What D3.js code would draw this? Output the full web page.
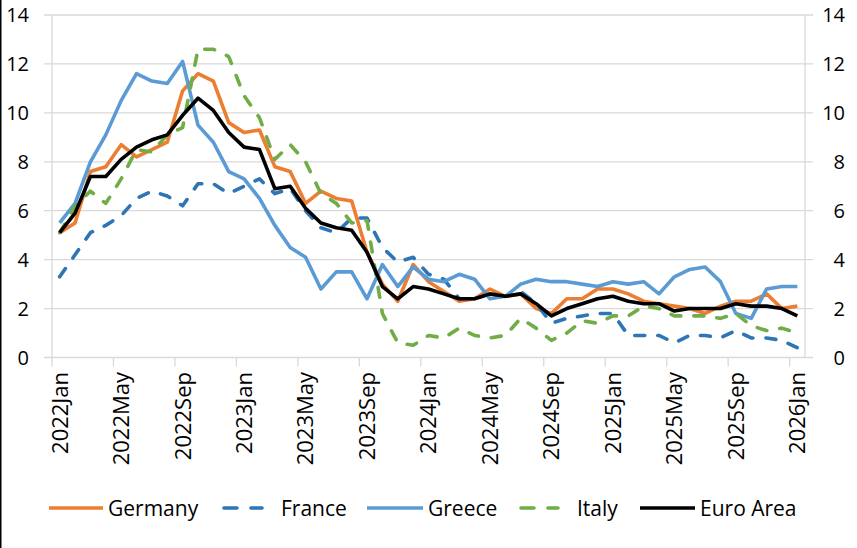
<html>
<head>
  <script src="https://d3js.org/d3.v7.min.js"></script>
  <meta charset="utf-8">
  <title>Inflation</title>
<style>
body {
  margin: 0;
}
svg {
  background: #fff;
  font-family: "Open Sans", sans-serif;
}
</style>
</head>
<body>
<script>
var width = 857,
    height = 548;

// months Jan 2022 .. Jan 2026
var years = [2022, 2023, 2024, 2025, 2026];
var monthNames = ['Jan', 'Feb', 'Mar', 'Apr', 'May', 'Jun', 'Jul', 'Aug', 'Sep', 'Oct', 'Nov', 'Dec'];
var months = [];
years.forEach(function (yr) {
  monthNames.forEach(function (m) {
    if (yr < 2026 || m === 'Jan') months.push(yr + m);
  });
});

var tickLabels = ['2022Jan', '2022May', '2022Sep', '2023Jan', '2023May', '2023Sep',
  '2024Jan', '2024May', '2024Sep', '2025Jan', '2025May', '2025Sep', '2026Jan'];
var yTicks = [0, 2, 4, 6, 8, 10, 12, 14];

var germany = [5.1, 5.5, 7.6, 7.8, 8.7, 8.2, 8.5, 8.8, 10.9, 11.6, 11.3, 9.6,
  9.2, 9.3, 7.8, 7.6, 6.3, 6.8, 6.5, 6.4, 4.3, 3.0, 2.3, 3.8,
  3.1, 2.7, 2.3, 2.4, 2.8, 2.5, 2.6, 2.0, 1.8, 2.4, 2.4, 2.8,
  2.8, 2.6, 2.3, 2.2, 2.1, 2.0, 1.8, 2.1, 2.3, 2.3, 2.6, 2.0,
  2.1];
var france = [3.3, 4.2, 5.1, 5.4, 5.8, 6.5, 6.8, 6.6, 6.2, 7.1, 7.1, 6.7,
  7.0, 7.3, 6.7, 6.9, 6.0, 5.3, 5.1, 5.7, 5.7, 4.5, 3.9, 4.1,
  3.4, 3.2, 2.4, 2.4, 2.6, 2.5, 2.7, 2.2, 1.4, 1.6, 1.7, 1.8,
  1.8, 0.9, 0.9, 0.9, 0.6, 0.9, 0.9, 0.8, 1.1, 0.8, 0.8, 0.7,
  0.4];
var greece = [5.5, 6.3, 8.0, 9.1, 10.5, 11.6, 11.3, 11.2, 12.1, 9.5, 8.8, 7.6,
  7.3, 6.5, 5.4, 4.5, 4.1, 2.8, 3.5, 3.5, 2.4, 3.8, 2.9, 3.7,
  3.2, 3.1, 3.4, 3.2, 2.4, 2.5, 3.0, 3.2, 3.1, 3.1, 3.0, 2.9,
  3.1, 3.0, 3.1, 2.6, 3.3, 3.6, 3.7, 3.1, 1.8, 1.6, 2.8, 2.9,
  2.9];
var italy = [5.1, 6.2, 6.8, 6.3, 7.3, 8.5, 8.4, 9.1, 9.4, 12.6, 12.6, 12.3,
  10.7, 9.8, 8.1, 8.7, 8.0, 6.7, 6.3, 5.5, 5.6, 1.8, 0.6, 0.5,
  0.9, 0.8, 1.2, 0.9, 0.8, 0.9, 1.6, 1.2, 0.7, 1.0, 1.5, 1.4,
  1.7, 1.7, 2.1, 2.0, 1.7, 1.7, 1.7, 1.6, 1.8, 1.3, 1.1, 1.2,
  1.0];
var euroArea = [5.1, 5.9, 7.4, 7.4, 8.1, 8.6, 8.9, 9.1, 9.9, 10.6, 10.1, 9.2,
  8.6, 8.5, 6.9, 7.0, 6.1, 5.5, 5.3, 5.2, 4.3, 2.9, 2.4, 2.9,
  2.8, 2.6, 2.4, 2.4, 2.6, 2.5, 2.6, 2.2, 1.7, 2.0, 2.2, 2.4,
  2.5, 2.3, 2.2, 2.2, 1.9, 2.0, 2.0, 2.0, 2.2, 2.1, 2.1, 2.0,
  1.7];

var series = [
  {name: 'Germany', values: germany, color: '#ED7D31', dashed: false},
  {name: 'France', values: france, color: '#2E75B6', dashed: true},
  {name: 'Greece', values: greece, color: '#5B9BD5', dashed: false},
  {name: 'Italy', values: italy, color: '#70AD47', dashed: true},
  {name: 'Euro Area', values: euroArea, color: '#000000', dashed: false}
];

// plot box (window.top is reserved, so use other names)
var plotL = 52, plotR = 805, plotT = 15, plotB = 357.5;
var gridColor = '#d9d9d9';
var dash = '10,13';

var svg = d3.select('body').append('svg')
  .attr('width', width)
  .attr('height', height);

var x = d3.scaleBand().domain(months).range([plotL, plotR]);
var xc = function (m) { return x(m) + x.bandwidth() / 2; };
var y = d3.scaleLinear().domain([0, 14]).range([plotB, plotT]);

// gridlines (run a bit past both axes like tick marks)
svg.append('g').selectAll('line')
  .data(yTicks)
  .enter()
  .append('line')
  .attr('x1', plotL - 8)
  .attr('x2', plotR + 8)
  .attr('y1', function (d) { return y(d); })
  .attr('y2', function (d) { return y(d); })
  .style('stroke', gridColor)
  .style('stroke-width', 1.3);

// vertical axes
[plotL, plotR].forEach(function (px) {
  svg.append('line')
    .attr('x1', px).attr('x2', px)
    .attr('y1', plotT).attr('y2', plotB)
    .style('stroke', gridColor)
    .style('stroke-width', 1.3);
});

// y labels both sides
[29, 845].forEach(function (lx) {
  svg.append('g').selectAll('text')
    .data(yTicks)
    .enter()
    .append('text')
    .attr('x', lx)
    .attr('y', function (d) { return y(d); })
    .attr('dy', '0.36em')
    .attr('text-anchor', 'end')
    .style('font-size', '20px')
    .text(function (d) { return d; });
});

// x tick marks at the left edge of each labelled month
svg.append('g').selectAll('line')
  .data(tickLabels)
  .enter()
  .append('line')
  .attr('x1', function (d) { return x(d); })
  .attr('x2', function (d) { return x(d); })
  .attr('y1', plotB)
  .attr('y2', plotB + 9)
  .style('stroke', gridColor)
  .style('stroke-width', 1.3);

svg.append('g').selectAll('text')
  .data(tickLabels)
  .enter()
  .append('text')
  .attr('transform', function (d) { return 'translate(' + xc(d) + ',372) rotate(-90)'; })
  .attr('dy', '0.36em')
  .attr('text-anchor', 'end')
  .style('font-size', '22px')
  .text(function (d) { return d; });

// lines
var line = d3.line()
  .x(function (d, i) { return xc(months[i]); })
  .y(function (d) { return y(d); });

svg.append('g').selectAll('path')
  .data(series)
  .enter()
  .append('path')
  .attr('d', function (d) { return line(d.values); })
  .style('fill', 'none')
  .style('stroke', function (d) { return d.color; })
  .style('stroke-width', 3.6)
  .style('stroke-linejoin', 'round')
  .style('stroke-linecap', function (d) { return d.dashed ? 'round' : 'butt'; })
  .style('stroke-dasharray', function (d) { return d.dashed ? dash : null; });

// legend
var legendX = [49, 222, 367, 519, 640];
var legendW = [54, 42, 56, 41, 55];
var legendY = 508;
var items = svg.append('g').selectAll('g')
  .data(series)
  .enter()
  .append('g')
  .attr('transform', function (d, i) { return 'translate(' + legendX[i] + ',' + legendY + ')'; });

items.append('line')
  .attr('x1', function (d) { return d.dashed ? 2 : 0; })
  .attr('x2', function (d, i) { return d.dashed ? legendW[i] - 2 : legendW[i]; })
  .style('stroke', function (d) { return d.color; })
  .style('stroke-width', 3.6)
  .style('stroke-linecap', function (d) { return d.dashed ? 'round' : 'butt'; })
  .style('stroke-dasharray', function (d) { return d.dashed ? '13,14' : null; });

items.append('text')
  .attr('x', function (d, i) { return legendW[i] + (d.dashed ? 17 : 5); })
  .attr('dy', '0.36em')
  .style('font-size', '21px')
  .text(function (d) { return d.name; });

// thin dark frame edge on the left
svg.append('line')
  .attr('x1', 0.75).attr('x2', 0.75)
  .attr('y1', 0).attr('y2', height)
  .style('stroke', '#000')
  .style('stroke-width', 1.5);
</script>
</body>
</html>
